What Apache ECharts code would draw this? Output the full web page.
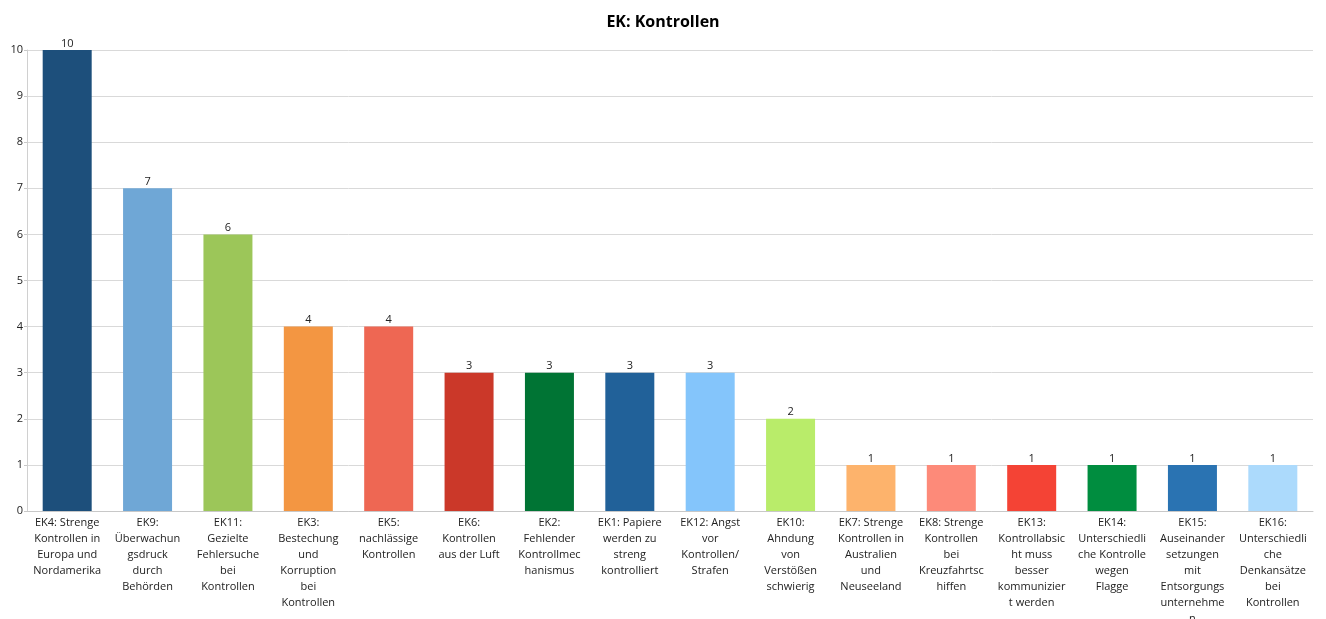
<!DOCTYPE html>
<html>
<head>
<meta charset="utf-8">
<script src="https://cdn.jsdelivr.net/npm/echarts@6/dist/echarts.min.js"></script>
<style>
html,body{margin:0;padding:0;background:#fff;}
#chart{width:1326px;height:619px;}
</style>
</head>
<body>
<div id="chart"></div>
<script>
const categories = [
  "EK4: Strenge\nKontrollen in\nEuropa und\nNordamerika",
  "EK9:\nÜberwachun\ngsdruck\ndurch\nBehörden",
  "EK11:\nGezielte\nFehlersuche\nbei\nKontrollen",
  "EK3:\nBestechung\nund\nKorruption\nbei\nKontrollen",
  "EK5:\nnachlässige\nKontrollen",
  "EK6:\nKontrollen\naus der Luft",
  "EK2:\nFehlender\nKontrollmec\nhanismus",
  "EK1: Papiere\nwerden zu\nstreng\nkontrolliert",
  "EK12: Angst\nvor\nKontrollen/\nStrafen",
  "EK10:\nAhndung\nvon\nVerstößen\nschwierig",
  "EK7: Strenge\nKontrollen in\nAustralien\nund\nNeuseeland",
  "EK8: Strenge\nKontrollen\nbei\nKreuzfahrtsc\nhiffen",
  "EK13:\nKontrollabsic\nht muss\nbesser\nkommunizier\nt werden",
  "EK14:\nUnterschiedli\nche Kontrolle\nwegen\nFlagge",
  "EK15:\nAuseinander\nsetzungen\nmit\nEntsorgungs\nunternehme\nn",
  "EK16:\nUnterschiedli\nche\nDenkansätze\nbei\nKontrollen"
];
const values = [10, 7, 6, 4, 4, 3, 3, 3, 3, 2, 1, 1, 1, 1, 1, 1];
const colors = ["#1d4f7b", "#6fa7d6", "#9cc659", "#f39642", "#ee6753", "#cb3829", "#007434", "#216199", "#84c5fb", "#b9ec6a", "#fdb36c", "#fd8a79", "#f44335", "#008d3f", "#2a73b2", "#acdafc"];
const yTicks = {min: 0, max: 10, interval: 1};

const chart = echarts.init(document.getElementById('chart'));
chart.setOption({
  animation: false,
  title: {
    text: 'EK: Kontrollen',
    left: 'center',
    top: 9,
    textStyle: {fontFamily: 'Open Sans', fontSize: 16, fontWeight: 'bold', color: '#000'}
  },
  grid: {left: 27, right: 13, top: 50, bottom: 108, containLabel: false, outerBoundsMode: 'none'},
  xAxis: {
    type: 'category',
    data: categories,
    axisLine: {lineStyle: {color: '#c8c8c8', width: 1}},
    axisTick: {show: false},
    axisLabel: {
      interval: 0,
      color: '#222',
      fontFamily: 'Open Sans',
      fontSize: 11,
      lineHeight: 16,
      margin: 4
    }
  },
  yAxis: {
    type: 'value',
    min: yTicks.min, max: yTicks.max, interval: yTicks.interval,
    axisLine: {show: true, lineStyle: {color: '#d0d0d0'}},
    axisTick: {show: true, length: 3, lineStyle: {color: '#c8c8c8'}},
    splitLine: {lineStyle: {color: '#d9d9d9'}},
    axisLabel: {color: '#222', fontFamily: 'Open Sans', fontSize: 11, margin: 4}
  },
  series: [{
    type: 'bar',
    data: values.map((v, i) => ({value: v, itemStyle: {color: colors[i]}})),
    barWidth: 49,
    label: {
      show: true,
      position: 'top',
      distance: 1,
      color: '#222',
      fontFamily: 'Open Sans',
      fontSize: 11
    }
  }]
});
</script>
</body>
</html>
